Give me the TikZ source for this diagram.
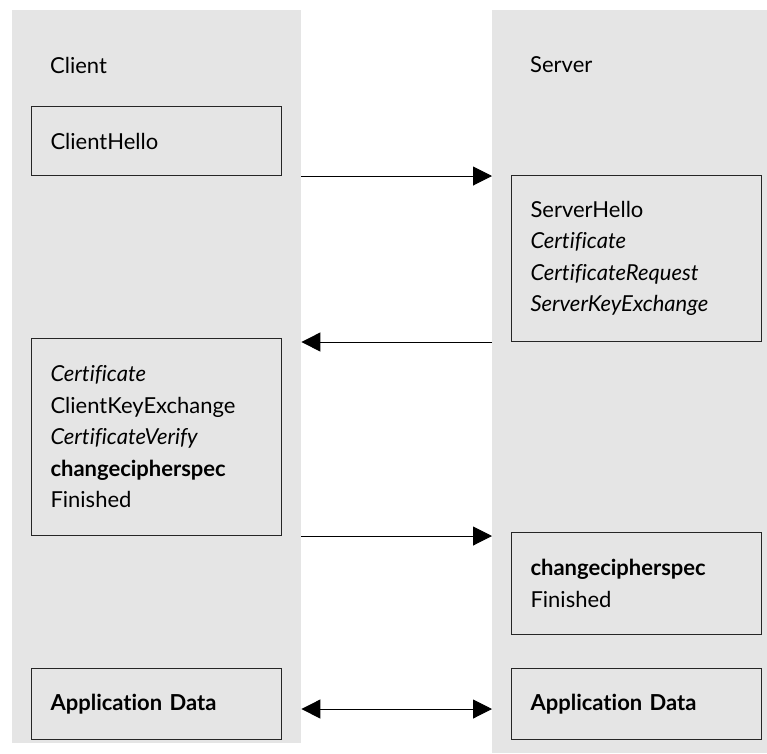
\documentclass[tikz,border=0pt]{standalone}
\usepackage{fontspec}
\setmainfont{Lato}[Ligatures=NoCommon]
\usepackage{tikz}
\usetikzlibrary{arrows.meta,positioning}
\definecolor{laneGray}{HTML}{E5E5E5}
\tikzset{
    laneBox/.style={
        fill=laneGray,
        draw=none,
        inner sep=0pt
    },
    msgBox/.style={
        draw=black!85,
        line width=1pt,
        align=left,
        text width=212pt,
        inner xsep=19pt,
        inner ysep=0pt,
        font=\fontsize{22}{31.5}\selectfont
    },
    laneTitle/.style={
        anchor=west,
        inner sep=0pt,
        font=\fontsize{22}{31.5}\selectfont
    },
    msgArrow/.style={
        -{Triangle[length=19pt,width=19pt]},
        line width=1pt
    },
    msgBoth/.style={
        {Triangle[length=19pt,width=19pt]}-{Triangle[length=19pt,width=19pt]},
        line width=1pt
    }
}

\begin{document}
\begin{tikzpicture}[x=1pt,y=-1pt]
        \useasboundingbox (0,0) rectangle (767,753);
        % lanes
        \node[laneBox,minimum width=289pt,minimum height=733pt,anchor=north west] (clientCol) at (12,10) {};
        \node[laneBox,minimum width=275pt,minimum height=743pt,anchor=north west] (serverCol) at (492,10) {};
        \node[laneTitle] (client) at (50,65) {Client};
        \node[laneTitle] (server) at (530,65) {Server};

        % messages
        \node[msgBox,minimum height=69pt,anchor=north west] (clientHello) at (31,106) {ClientHello};
        \node[msgBox,minimum height=166pt,anchor=north west] (serverHello) at (511,175)
            {ServerHello\\\textit{Certificate}\\\textit{CertificateRequest}\\\textit{ServerKeyExchange}};
        \node[msgBox,minimum height=197pt,anchor=north west] (clientKeyEx) at (31,338)
            {\textit{Certificate}\\ClientKeyExchange\\\textit{CertificateVerify}\\\textbf{changecipherspec}\\Finished};
        \node[msgBox,minimum height=102pt,anchor=north west] (serverFinished) at (511,532)
            {\textbf{changecipherspec}\\Finished};
        \node[msgBox,minimum height=71pt,anchor=north west] (clientData) at (31,668) {\textbf{Application Data}};
        \node[msgBox,minimum height=71pt,anchor=north west] (serverData) at (511,668) {\textbf{Application Data}};

        \draw[msgArrow] (clientCol.east |- clientHello.south) -- (serverCol.west |- clientHello.south);
        \draw[msgArrow] (serverCol.west |- serverHello.south) -- (clientCol.east |- serverHello.south);
        \draw[msgArrow] (clientCol.east |- clientKeyEx.south) -- (serverCol.west |- clientKeyEx.south);
        \draw[msgBoth] ([yshift=-5pt]clientCol.east |- clientData.center) -- ([yshift=-5pt]serverCol.west |- serverData.center);
    \end{tikzpicture}
\end{document}
